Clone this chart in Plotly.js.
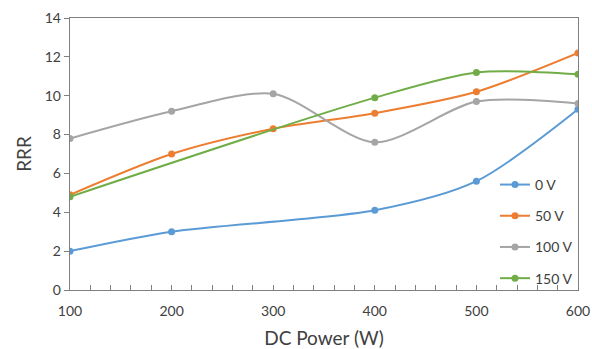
<!DOCTYPE html>
<html><head><meta charset="utf-8">
<script src="https://cdn.plot.ly/plotly-3.0.1.min.js"></script>
<style>html,body{margin:0;padding:0;background:#fff}#c{width:592px;height:349px}</style>
</head><body><div id="c"></div>
<script>
const power = [100, 200, 300, 400, 500, 600];
const power0 = [100, 200, 400, 500, 600];
const rrr0 = [2.0, 3.0, 4.1, 5.6, 9.3];
const rrr50 = [4.9, 7.0, 8.3, 9.1, 10.2, 12.2];
const rrr100 = [7.8, 9.2, 10.1, 7.6, 9.7, 9.6];
const power150 = [100, 400, 500, 600];
const rrr150 = [4.8, 9.9, 11.2, 11.1];
const names = ['0 V', '50 V', '100 V', '150 V'];
const colors = ['#5b9bd5', '#ed7d31', '#a5a5a5', '#70ad47'];
const xs = [power0, power, power, power150];
const ys = [rrr0, rrr50, rrr100, rrr150];

const traces = names.map((n, i) => ({
  x: xs[i], y: ys[i], name: n, type: 'scatter', mode: 'lines+markers', legendgroup: 'g' + i,
  line: {color: colors[i], width: 2, shape: 'spline', smoothing: 0.8},
  marker: {color: colors[i], size: 7}
}));

const font = {family: 'Lato, "Open Sans", sans-serif', color: '#404040'};
const layout = {
  width: 592, height: 349,
  margin: {l: 70, r: 14, t: 18, b: 59},
  paper_bgcolor: '#fff', plot_bgcolor: '#fff',
  font: font,
  showlegend: true,
  legend: {x: 1, xanchor: 'right', y: 0.445, yanchor: 'top', bgcolor: 'rgba(0,0,0,0)',
           font: {size: 14, color: '#404040', family: font.family}, tracegroupgap: 10, itemwidth: 30},
  xaxis: {range: [100, 600], tickvals: [100, 200, 300, 400, 500, 600],
    ticks: 'inside', ticklen: 5, tickcolor: '#808080', showgrid: false, zeroline: false,
    showline: true, linecolor: '#808080', linewidth: 1.3, mirror: true,
    minor: {dtick: 20, ticks: 'inside', ticklen: 5, tickcolor: '#808080', showgrid: false},
    ticklabelstandoff: 8,
    tickfont: {size: 14, color: '#404040'},
    title: {text: 'DC Power (W)', font: {size: 19, color: '#404040'}, standoff: 14}},
  yaxis: {range: [0, 14], dtick: 2, ticks: 'outside', ticklen: 5, tickcolor: '#808080',
    showgrid: false, zeroline: false, showline: true, linecolor: '#808080', linewidth: 1.3, mirror: true,
    tickfont: {size: 14, color: '#404040'},
    title: {text: 'RRR', font: {size: 19, color: '#404040'}, standoff: 8}}
};
Plotly.newPlot('c', traces, layout, {staticPlot: true, displayModeBar: false});
</script></body></html>
